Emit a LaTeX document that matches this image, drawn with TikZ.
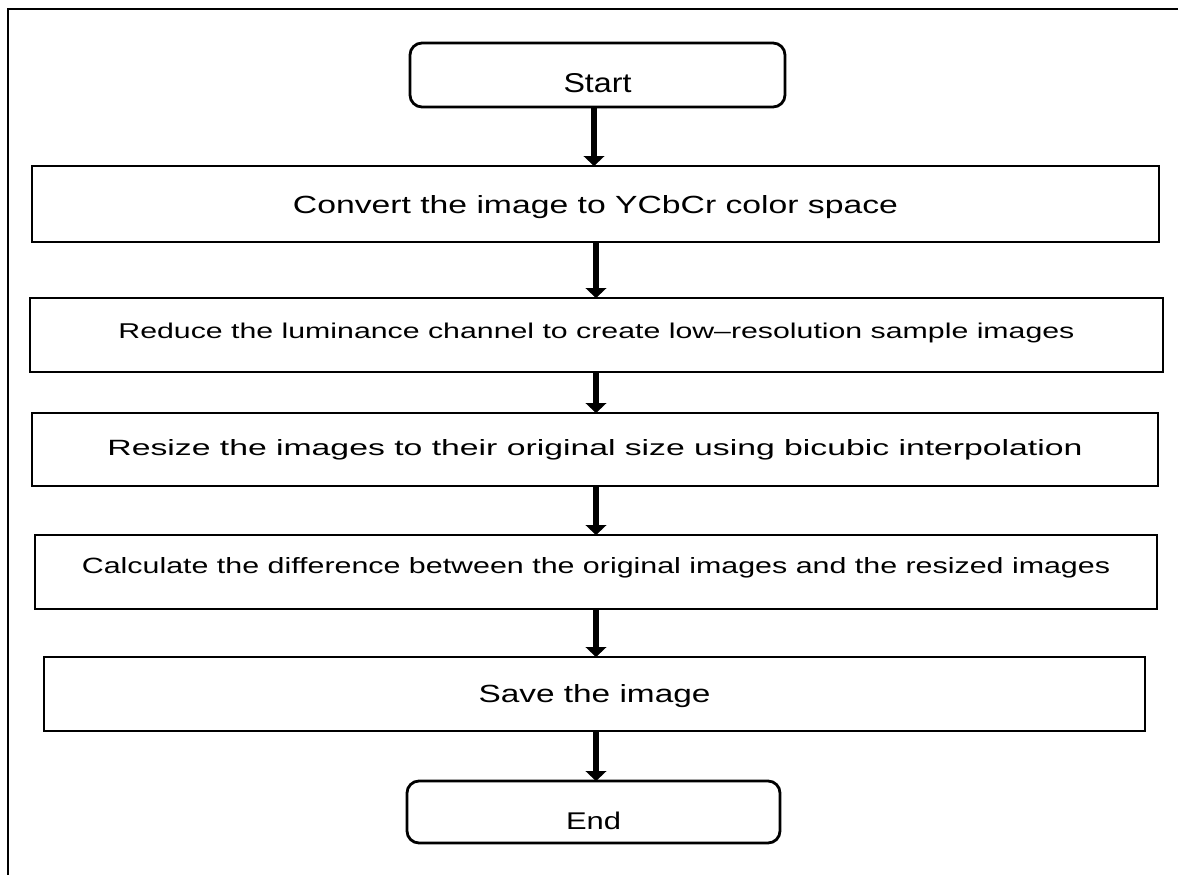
\documentclass[tikz,border=0pt]{standalone}
\usepackage{fontspec}
\usepackage{graphicx}
\setmainfont{Liberation Sans}
\usetikzlibrary{arrows.meta}

% text squeezed to a given width and cap height, with an optional vertical offset
\newcommand{\flowtext}[4]{\raisebox{#3}[#2][0pt]{\resizebox{#1}{#2}{#4}}}

\tikzset{
  stepbox/.style={draw=black, line width=2.8pt, inner sep=0pt, outer sep=0pt, fill=white},
  termbox/.style={stepbox, rounded corners=12pt},
  flow/.style={line width=6pt, -{Triangle[width=21pt,length=10pt,line width=0.4pt]}},
  frameline/.style={line width=2.5pt}
}

\begin{document}
\begin{tikzpicture}[x=1pt,y=-1pt]
  \useasboundingbox (0,0) rectangle (1178,875);

  % outer frame
  \draw[frameline] (8,890) -- (8,9) -- (1190,9);

  % terminals and process steps
  \node[termbox, minimum width=375pt, minimum height=64pt] (start) at (597.5,75)
    {\flowtext{68pt}{19pt}{-8.5pt}{Start}};
  \node[stepbox, minimum width=1127pt, minimum height=76pt] (b1) at (595.5,204)
    {\flowtext{605pt}{18pt}{0pt}{Convert the image to YCbCr color space}};
  \node[stepbox, minimum width=1133pt, minimum height=74pt] (b2) at (596.5,335)
    {\flowtext{956pt}{15.5pt}{4.5pt}{Reduce the luminance channel to create low–resolution sample images}};
  \node[stepbox, minimum width=1126pt, minimum height=73pt] (b3) at (595,449.5)
    {\flowtext{975pt}{16pt}{2.5pt}{Resize the images to their original size using bicubic interpolation}};
  \node[stepbox, minimum width=1122pt, minimum height=74pt] (b4) at (596,572)
    {\flowtext{1028pt}{16pt}{7pt}{Calculate the difference between the original images and the resized images}};
  \node[stepbox, minimum width=1101pt, minimum height=74pt] (b5) at (594.5,694)
    {\flowtext{232pt}{18pt}{1pt}{Save the image}};
  \node[termbox, minimum width=373pt, minimum height=62pt] (end) at (593.5,812)
    {\flowtext{55pt}{17.5pt}{-8.5pt}{End}};

  % vertical spine of the flow
  \coordinate (spine) at (596,0);
  \coordinate (spine0) at (594,0);

  \draw[flow] (start.south -| spine0) -- (b1.north -| spine0);
  \draw[flow] (b1.south -| spine) -- (b2.north -| spine);
  \draw[flow] (b2.south -| spine) -- (b3.north -| spine);
  \draw[flow] (b3.south -| spine) -- (b4.north -| spine);
  \draw[flow] (b4.south -| spine) -- (b5.north -| spine);
  \draw[flow] (b5.south -| spine) -- (end.north -| spine);
\end{tikzpicture}
\end{document}
